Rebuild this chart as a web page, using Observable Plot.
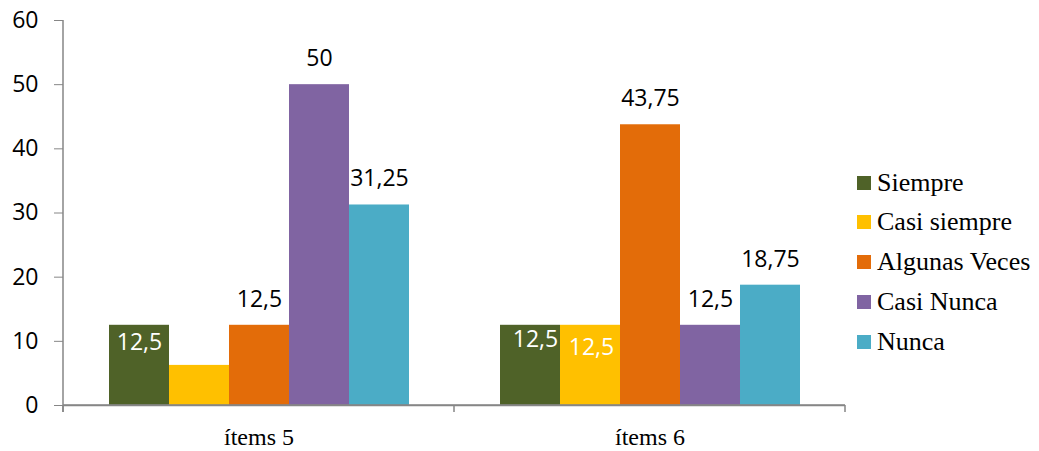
<!DOCTYPE html>
<html>
<head>
<meta charset="utf-8">
<script src="https://cdn.jsdelivr.net/npm/d3@7"></script>
<script src="https://cdn.jsdelivr.net/npm/@observablehq/plot@0.6"></script>
<style>
  body { margin: 0; background: #fff; }
  #wrap { position: relative; width: 1039px; height: 451px; }
  #legend { position: absolute; left: 857px; top: 0; font-family: "Liberation Serif", "Times New Roman", serif; font-size: 26px; color: #000; }
  .row { position: absolute; left: 0; display: flex; align-items: center; white-space: nowrap; height: 30px; transform: translateY(-50%); }
  .sw { width: 14px; height: 14px; margin-right: 6px; }
</style>
</head>
<body>
<div id="wrap"><div id="legend"></div></div>
<script>
const items = ["ítems 5", "ítems 6"];
const series = ["Siempre", "Casi siempre", "Algunas Veces", "Casi Nunca", "Nunca"];
const siempre = [12.5, 12.5];
const casiSiempre = [6.25, 12.5];
const algunasVeces = [12.5, 43.75];
const casiNunca = [50, 12.5];
const nunca = [31.25, 18.75];
const colors = ["#4F6228", "#FFC000", "#E36C09", "#8064A2", "#4BACC6"];
const yTicks = [0, 10, 20, 30, 40, 50, 60];

const seriesValues = [siempre, casiSiempre, algunasVeces, casiNunca, nunca];
const rows = [];
items.forEach((item, i) => {
  series.forEach((s, j) => rows.push({item, serie: s, value: seriesValues[j][i]}));
});
const fmt = v => String(v).replace(".", ",");

// label placement
const isHidden = r => r.item === "ítems 5" && r.serie === "Casi siempre";
const insideA = rows.filter(r => r.item === "ítems 5" && r.serie === "Siempre");
const insideB = rows.filter(r => r.item === "ítems 6" && r.serie === "Siempre");
const insideC = rows.filter(r => r.item === "ítems 6" && r.serie === "Casi siempre");
const insideSet = new Set([...insideA, ...insideB, ...insideC]);
const outside = rows.filter(r => !isHidden(r) && !insideSet.has(r));

const valueFont = {fontFamily: "Open Sans, Liberation Sans, sans-serif", fontSize: 23};

const plot = Plot.plot({
  width: 1039,
  height: 451,
  marginLeft: 63,
  marginRight: 194,
  marginTop: 20,
  marginBottom: 46,
  style: {fontFamily: "Open Sans, Liberation Sans, sans-serif", fontSize: "23px", color: "#000", background: "#fff"},
  fx: {domain: items, padding: 0, label: null},
  x: {domain: series, paddingInner: 0, paddingOuter: 0.758, axis: null},
  y: {domain: [0, 60], label: null},
  color: {domain: series, range: colors},
  marks: [
    Plot.barY(rows, {fx: "item", x: "serie", y: "value", fill: "serie"}),
    Plot.ruleY([0], {stroke: "#868686", strokeWidth: 1.5}),
    Plot.axisY({ticks: yTicks, tickSize: 9, tickPadding: 16, stroke: "#868686", fill: "#000", label: null, fontSize: 23, fontFamily: "Open Sans, Liberation Sans, sans-serif"}),
    Plot.axisFx({anchor: "bottom", tickSize: 0, tickPadding: 22, label: null, fill: "#000", fontSize: 24, fontFamily: "Liberation Serif, Times New Roman, serif"}),
    Plot.text(outside, {fx: "item", x: "serie", y: "value", text: d => fmt(d.value), dy: -26, lineAnchor: "middle", fill: "#000", ...valueFont}),
    Plot.text(insideA, {fx: "item", x: "serie", y: "value", text: d => fmt(d.value), dy: 17, lineAnchor: "middle", fill: "#fff", ...valueFont}),
    Plot.text(insideB, {fx: "item", x: "serie", y: "value", text: d => fmt(d.value), dx: 5, dy: 14, lineAnchor: "middle", fill: "#fff", ...valueFont}),
    Plot.text(insideC, {fx: "item", x: "serie", y: "value", text: d => fmt(d.value), dx: 1, dy: 22, lineAnchor: "middle", fill: "#fff", ...valueFont})
  ]
});

document.getElementById("wrap").prepend(plot);

// axis lines and category boundary ticks from the plot's scales
const fxs = plot.scale("fx");
const ys = plot.scale("y");
const fxScale = d3.scaleBand().domain(fxs.domain).range(fxs.range).paddingInner(fxs.paddingInner ?? 0).paddingOuter(fxs.paddingOuter ?? 0);
const yScale = d3.scaleLinear().domain(ys.domain).range(ys.range);
const y0 = yScale(0), yTop = yScale(d3.max(yTicks));
const bounds = Array.from(new Set(items.flatMap(d => [fxScale(d), fxScale(d) + fxScale.bandwidth()])));
const g = d3.select(plot).append("g").attr("stroke", "#868686").attr("stroke-width", 1.5);
g.append("line").attr("x1", bounds[0]).attr("x2", bounds[0]).attr("y1", yTop).attr("y2", y0 + 7);
g.append("line").attr("x1", bounds[0]).attr("x2", d3.max(bounds)).attr("y1", y0).attr("y2", y0);
bounds.forEach(b => g.append("line").attr("x1", b).attr("x2", b).attr("y1", y0).attr("y2", y0 + 7));

// legend
const legendY = [183, 222, 262, 302, 342];
const legend = document.getElementById("legend");
series.forEach((s, i) => {
  const row = document.createElement("div");
  row.className = "row";
  row.style.top = legendY[i] + "px";
  const sw = document.createElement("span");
  sw.className = "sw";
  sw.style.background = colors[i];
  const t = document.createElement("span");
  t.textContent = s;
  row.append(sw, t);
  legend.append(row);
});
</script>
</body>
</html>
